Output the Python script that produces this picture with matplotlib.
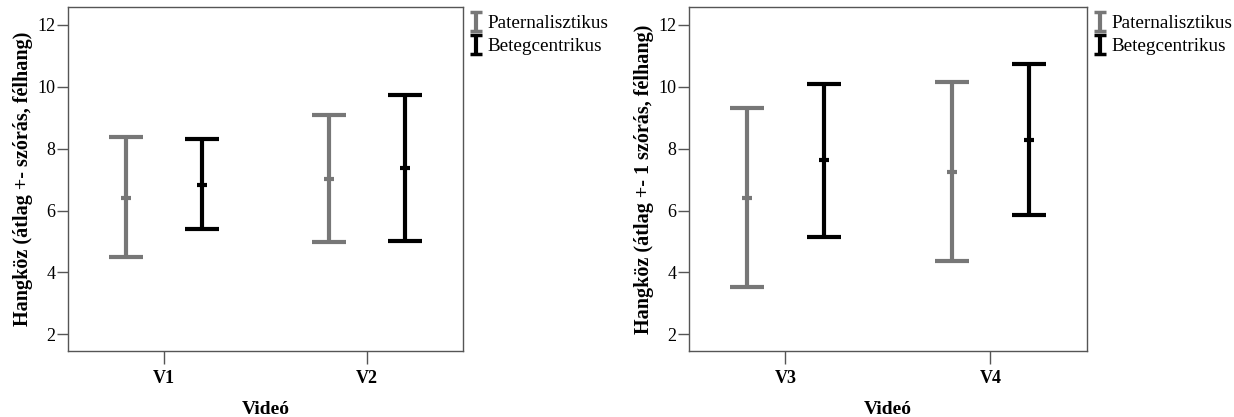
import matplotlib
matplotlib.use("Agg")
import matplotlib.pyplot as plt
import numpy as np

plt.rcParams['font.family'] = ['Liberation Serif', 'DejaVu Serif']

groups = ["Paternalisztikus", "Betegcentrikus"]
colors = ["#777777", "#000000"]

left_videos = ["V1", "V2"]
left_mean = {"Paternalisztikus": [6.42, 7.03], "Betegcentrikus": [6.84, 7.38]}
left_low = {"Paternalisztikus": [4.50, 4.99], "Betegcentrikus": [5.40, 5.02]}
left_high = {"Paternalisztikus": [8.36, 9.07], "Betegcentrikus": [8.30, 9.73]}

right_videos = ["V3", "V4"]
right_mean = {"Paternalisztikus": [6.39, 7.24], "Betegcentrikus": [7.62, 8.28]}
right_low = {"Paternalisztikus": [3.52, 4.37], "Betegcentrikus": [5.13, 5.87]}
right_high = {"Paternalisztikus": [9.30, 10.16], "Betegcentrikus": [10.09, 10.73]}

yticks = [2, 4, 6, 8, 10, 12]

fig = plt.figure(figsize=(12.34, 4.17), dpi=100)
ax1 = fig.add_axes([0.0551, 0.158, 0.320, 0.825])
ax2 = fig.add_axes([0.5583, 0.158, 0.3225, 0.825])

panels = [
    (ax1, left_videos, left_mean, left_low, left_high, "Hangköz (átlag +- szórás, félhang)"),
    (ax2, right_videos, right_mean, right_low, right_high, "Hangköz (átlag +- 1 szórás, félhang)"),
]

offsets = [-0.186, 0.186]
for ax, vids, mean, low, high, ylabel in panels:
    x = np.arange(len(vids))
    handles = []
    for g, c, off in zip(groups, colors, offsets):
        m = np.array(mean[g]); lo = np.array(low[g]); hi = np.array(high[g])
        ax.errorbar(x + off, m, yerr=[m - lo, hi - m], fmt='none', ecolor=c,
                    elinewidth=3, capsize=12, capthick=3)
        ax.plot(x + off, m, linestyle='none', marker='_', markersize=7, mew=3, color=c)
        # legend proxy (small "I" symbol)
        proxy = ax.errorbar([np.nan], [np.nan], yerr=[[np.nan], [np.nan]], fmt='none',
                            ecolor=c, elinewidth=3, capsize=4, capthick=2.5, label=g)
        handles.append(proxy)
    ax.set_xlim(-0.47, 1.47)
    ax.set_ylim(1.46, 12.57)
    ax.set_yticks(yticks)
    ax.set_yticklabels([str(t) for t in yticks], fontsize=13)
    ax.set_xticks(x)
    ax.set_xticklabels(vids, fontsize=13, fontweight='bold')
    ax.tick_params(axis='y', direction='out', length=8, width=1, color='#555555', pad=1)
    ax.tick_params(axis='x', direction='out', length=9.5, width=1, color='#555555', pad=4)
    for s in ax.spines.values():
        s.set_color('#555555')
        s.set_linewidth(1)
    ax.set_ylabel(ylabel, fontsize=14.5, fontweight='bold', labelpad=3)
    ax.set_xlabel("Videó", fontsize=14, fontweight='bold', labelpad=10)
    ax.legend(handles=handles, labels=groups, loc='upper left',
              bbox_to_anchor=(1.004, 1.0), frameon=False, fontsize=13.8,
              handlelength=0.45, handleheight=0.4, handletextpad=0.35, labelspacing=0.3,
              borderaxespad=0.1, borderpad=0.3)

fig.savefig("out.png", dpi=100)
